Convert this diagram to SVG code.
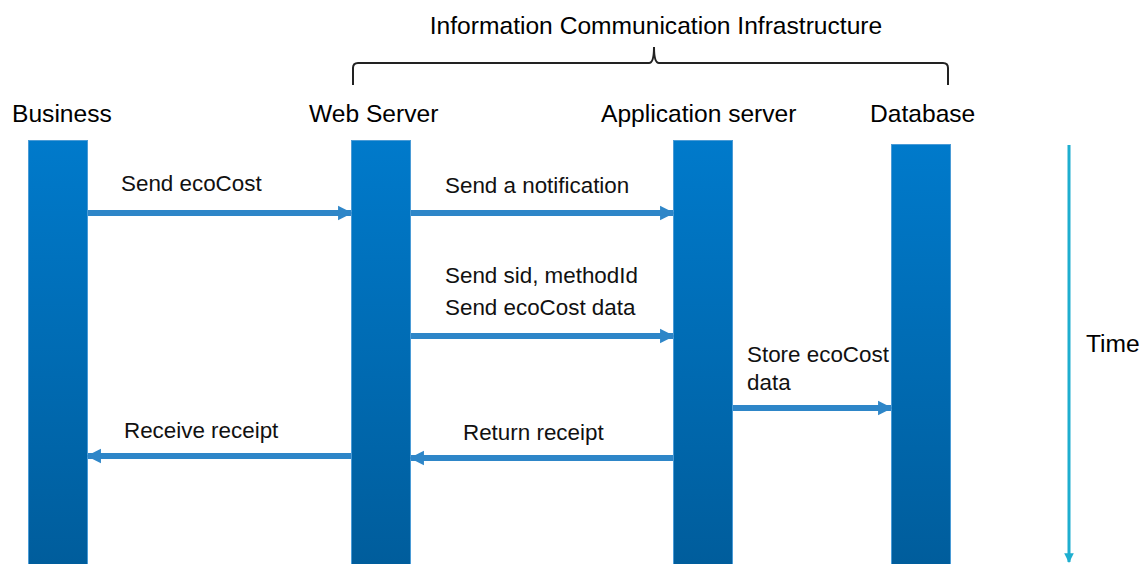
<svg xmlns="http://www.w3.org/2000/svg" width="1141" height="564" viewBox="0 0 1141 564">
<defs>
<linearGradient id="barGrad" x1="0" y1="0" x2="0" y2="1">
<stop offset="0" stop-color="#007acb"/>
<stop offset="1" stop-color="#005d9c"/>
</linearGradient>
<marker id="ah" viewBox="0 0 10 10" refX="9" refY="5" markerWidth="2.4" markerHeight="3.2" orient="auto" markerUnits="strokeWidth">
<path d="M0,0 L10,5 L0,10 z" fill="#2e86c8"/>
</marker>
<marker id="th" viewBox="0 0 10 10" refX="9" refY="5" markerWidth="3.2" markerHeight="3.6" orient="auto" markerUnits="strokeWidth">
<path d="M0,0 L10,5 L0,10 z" fill="#1eaecf"/>
</marker>
</defs>
<style>
.bar{fill:url(#barGrad);stroke:#4a9bd6;stroke-width:1}
.hdr{font-family:"Liberation Sans",Arial,sans-serif;font-size:24.6px;fill:#000}
.lbl{font-family:"Liberation Sans",Arial,sans-serif;font-size:22.4px;fill:#111}
.msg{stroke:#2e86c8;stroke-width:6;fill:none;marker-end:url(#ah)}
.brace{stroke:#222;stroke-width:2;fill:none}
</style>
<rect width="1141" height="564" fill="#ffffff"/>
<g id="title">
<text class="hdr" x="656" y="34" text-anchor="middle" font-size="25.3">Information Communication Infrastructure</text>
<path class="brace" d="M353,85 L353,68 Q353,63 358,63 L649,63 Q654,63 654,47 Q654,63 659,63 L943,63 Q948,63 948,68 L948,85"/>
</g>
<g id="business">
<text class="hdr" x="12" y="122" font-size="25.6">Business</text>
<rect class="bar" x="28.5" y="140.5" width="59" height="424"/>
</g>
<g id="webserver">
<text class="hdr" x="309" y="122">Web Server</text>
<rect class="bar" x="351.5" y="140.5" width="59" height="424"/>
</g>
<g id="appserver">
<text class="hdr" x="601" y="122">Application server</text>
<rect class="bar" x="673.5" y="140.5" width="59" height="424"/>
</g>
<g id="database">
<text class="hdr" x="870" y="122">Database</text>
<rect class="bar" x="891.5" y="144.5" width="59" height="420"/>
</g>
<g id="time">
<line x1="1069" y1="145" x2="1069" y2="562" stroke="#1eaecf" stroke-width="3" marker-end="url(#th)"/>
<text class="hdr" x="1086" y="352" font-size="22.5">Time</text>
</g>
<g id="connectors">
<line class="msg" x1="88" y1="213" x2="351" y2="213"/>
<text class="lbl" x="121" y="191">Send ecoCost</text>
<line class="msg" x1="411" y1="213" x2="673" y2="213"/>
<text class="lbl" x="445" y="193">Send a notification</text>
<line class="msg" x1="411" y1="336" x2="673" y2="336"/>
<text class="lbl" x="445" y="283">Send sid, methodId</text>
<text class="lbl" x="445" y="315">Send ecoCost data</text>
<line class="msg" x1="733" y1="408" x2="891" y2="408"/>
<text class="lbl" x="747" y="362">Store ecoCost</text>
<text class="lbl" x="747" y="390">data</text>
<line class="msg" x1="673" y1="458" x2="411" y2="458"/>
<text class="lbl" x="463" y="440">Return receipt</text>
<line class="msg" x1="351" y1="456" x2="88" y2="456"/>
<text class="lbl" x="124" y="438">Receive receipt</text>
</g>
</svg>
